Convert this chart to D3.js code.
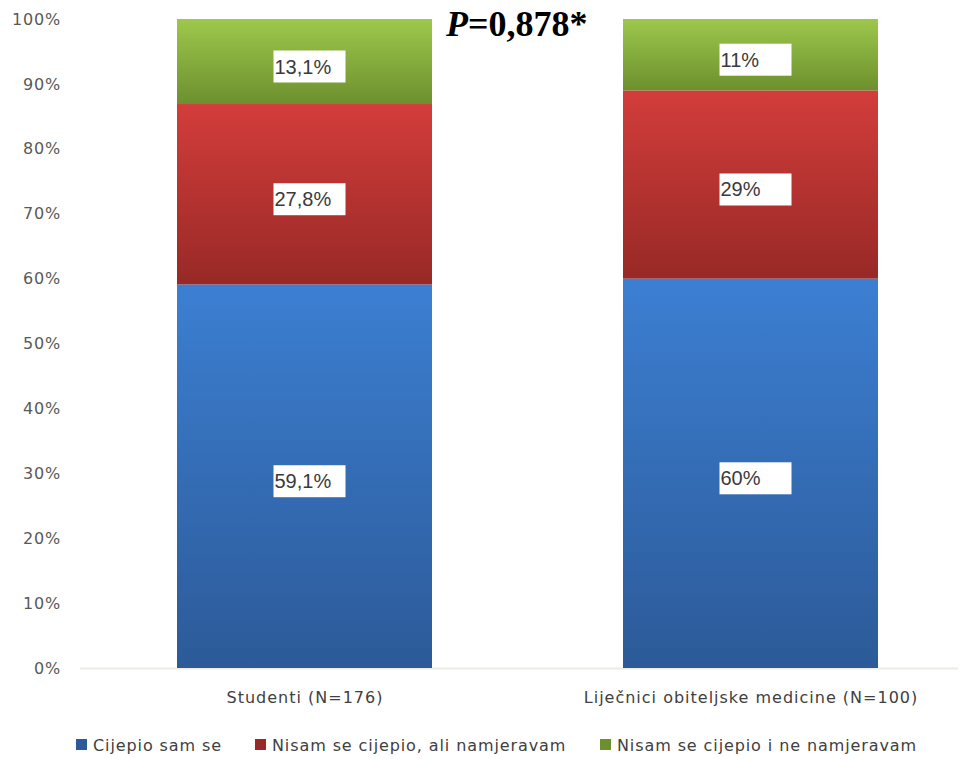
<!DOCTYPE html>
<html><head><meta charset="utf-8">
<script src="https://cdn.jsdelivr.net/npm/d3@7"></script>
<style>body{margin:0;background:#fff}</style>
</head><body>
<svg id="c" width="960" height="759"></svg>
<script>
const categories = ["Studenti (N=176)", "Liječnici obiteljske medicine (N=100)"];
const seriesNames = ["Cijepio sam se", "Nisam se cijepio, ali namjeravam", "Nisam se cijepio i ne namjeravam"];
const vaccinated = [59.1, 60];
const intends = [27.8, 29];
const notIntends = [13.1, 11];
const labelTexts = [["59,1%", "60%"], ["27,8%", "29%"], ["13,1%", "11%"]];
const yTicks = [0,10,20,30,40,50,60,70,80,90,100];

const svg = d3.select("#c");
const series = [vaccinated, intends, notIntends];
const grads = [["#3c7fd2","#2c5a98"],["#d33d3b","#982926"],["#9dc84c","#6c902e"]];
const defs = svg.append("defs");
grads.forEach((g,i)=>{
  const lg = defs.append("linearGradient").attr("id","g"+i).attr("x1",0).attr("y1",0).attr("x2",0).attr("y2",1);
  lg.append("stop").attr("offset","0%").attr("stop-color",g[0]);
  lg.append("stop").attr("offset","100%").attr("stop-color",g[1]);
});

const x = d3.scalePoint().domain(categories).range([81.5, 973.5]).padding(0.5);
const y = d3.scaleLinear().domain([0,100]).range([668, 19]);

// baseline
svg.append("line").attr("x1",80).attr("x2",958).attr("y1",y(0)+0.5).attr("y2",y(0)+0.5)
  .attr("stroke","#eeebe0").attr("stroke-width",2);

// y axis labels
const yAxis = d3.axisLeft(y).tickValues(yTicks).tickFormat(d=>d+"%").tickSize(0).tickPadding(0);
const ga = svg.append("g").attr("transform","translate(61,0)").call(yAxis);
ga.select(".domain").remove();
ga.selectAll("text").attr("font-family","'DejaVu Sans', sans-serif").attr("font-size","16px")
  .attr("letter-spacing","0.8px").attr("fill","#595959");

// stacked data
const stackData = categories.map((c,i)=>({cat:c, v:series.map(s=>s[i])}));
stackData.forEach(d=>{
  let acc=0;
  d.segs = d.v.map((v,k)=>{const s={k, y0:acc, y1:acc+v, cat:d.cat}; acc+=v; return s;});
});

const bw = 255;
const g = svg.append("g");
stackData.forEach(d=>{
  const cx = x(d.cat);
  d.segs.forEach(s=>{
    g.append("rect").attr("x", cx-bw/2).attr("width", bw)
      .attr("y", y(Math.min(s.y1,100))).attr("height", y(s.y0)-y(Math.min(s.y1,100)))
      .attr("fill", "url(#g"+s.k+")");
  });
});

// labels
stackData.forEach((d,i)=>{
  const cx = x(d.cat) + 5;
  d.segs.forEach(s=>{
    const cy = (y(s.y0)+y(Math.min(s.y1,100)))/2 + 5;
    const bwid = 72, bh = 32;
    g.append("rect").attr("x", cx-bwid/2).attr("y", cy-bh/2).attr("width", bwid).attr("height", bh).attr("fill","#fff");
    g.append("text").attr("x", cx-bwid/2+1).attr("y", cy+7)
      .attr("font-family","'Liberation Sans', Arial, sans-serif").attr("font-size","20px").attr("fill","#3a3a3a")
      .text(labelTexts[s.k][i]);
  });
});

// category labels
const xAxis = d3.axisBottom(x).tickSize(0).tickPadding(0);
const gx = svg.append("g").attr("transform","translate(0,703)").call(xAxis);
gx.select(".domain").remove();
gx.selectAll("text").attr("dy",0).attr("font-family","'DejaVu Sans', sans-serif").attr("font-size","16px")
  .attr("letter-spacing","1px").attr("fill","#404040");

// title
const t = svg.append("text").attr("x",446).attr("y",36).attr("font-family","'Liberation Serif', 'Times New Roman', serif")
  .attr("font-size","36px").attr("font-weight","bold").attr("fill","#000");
t.append("tspan").attr("font-style","italic").text("P");
t.append("tspan").text("=0,878*");

// legend
const legX = [76, 255, 600];
seriesNames.forEach((n,k)=>{
  const lg = svg.append("g").attr("transform",`translate(${legX[k]},739)`);
  lg.append("rect").attr("width",11).attr("height",11).attr("fill", grads[k][1]);
  lg.append("text").attr("x",17).attr("y",12).attr("font-family","'DejaVu Sans', sans-serif").attr("font-size","16px")
    .attr("letter-spacing","0.9px").attr("fill","#404040").text(n);
});
</script>
</body></html>
